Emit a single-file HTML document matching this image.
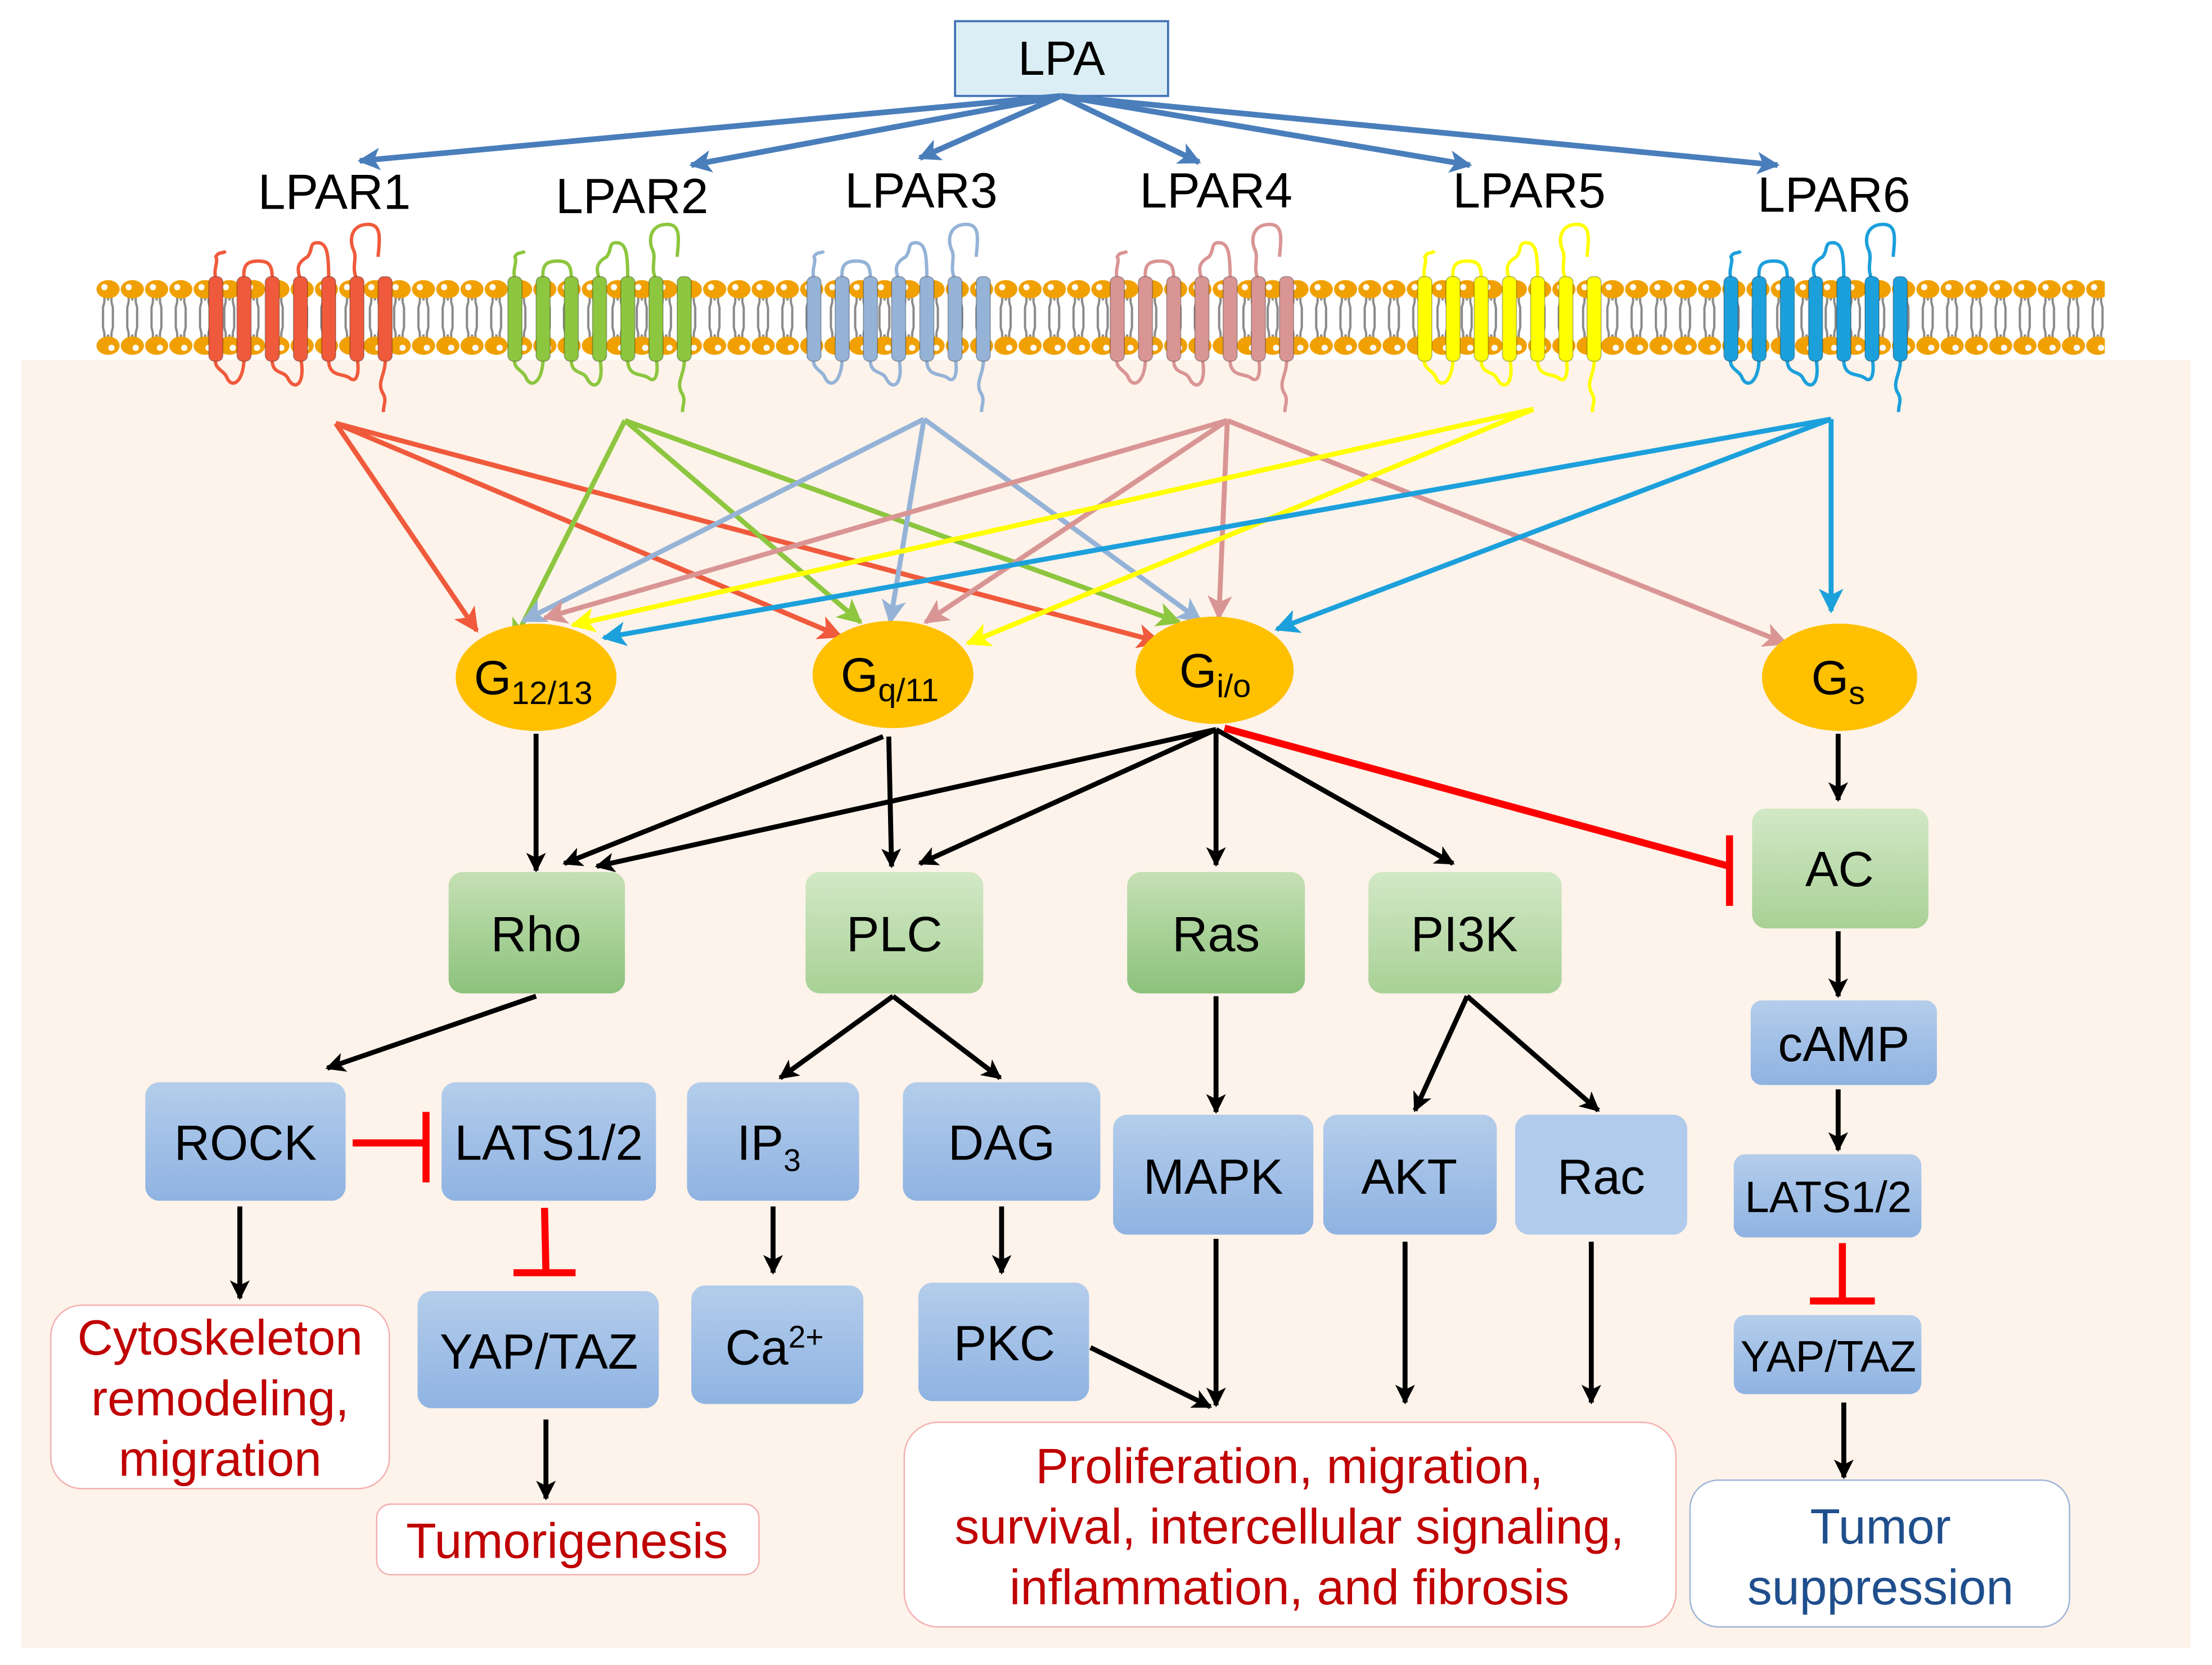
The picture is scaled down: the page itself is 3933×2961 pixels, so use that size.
<!DOCTYPE html>
<html><head><meta charset="utf-8"><style>
html,body{margin:0;padding:0;background:#fff}
svg{display:block}
text{font-family:"Liberation Sans",Arial,sans-serif}
</style></head><body>
<svg width="3933" height="2961" viewBox="0 0 1568 1180" preserveAspectRatio="none" xmlns="http://www.w3.org/2000/svg">
<defs>
<linearGradient id="gg" x1="0" y1="0" x2="0" y2="1"><stop offset="0" stop-color="#c5e0b4"/><stop offset="1" stop-color="#8cc27c"/></linearGradient>
<linearGradient id="gl" x1="0" y1="0" x2="0" y2="1"><stop offset="0" stop-color="#d2e8c6"/><stop offset="1" stop-color="#a9d196"/></linearGradient>
<linearGradient id="bg" x1="0" y1="0" x2="0" y2="1"><stop offset="0" stop-color="#b4cdeb"/><stop offset="1" stop-color="#8fb3e2"/></linearGradient>
<pattern id="lip" x="68" y="0" width="17.2" height="300" patternUnits="userSpaceOnUse">
<g stroke="#8a8a8a" stroke-width="1.6" fill="none">
<path d="M6,210 v4 M11,210 v4 M6,214 l-1,4 v8 M11,214 l1,4 v8 M8.6,210 v3"/>
<path d="M6,240 v-4 M11,240 v-4 M6,236 l-1,-4 v-8 M11,236 l1,-4 v-8 M8.6,240 v-3"/>
</g>
<ellipse cx="8.6" cy="205" rx="8.2" ry="6.5" fill="#f0a000"/>
<circle cx="6" cy="203.5" r="2.2" fill="#fff"/>
<ellipse cx="8.6" cy="245" rx="8.2" ry="6.5" fill="#f0a000"/>
<circle cx="11" cy="246.5" r="2.2" fill="#fff"/>
</pattern>
<g id="rec">
<g fill="none" stroke="currentColor" stroke-width="2.4">
<path d="M-60,198 C-62,190 -58,186 -60,182 -58,178 -55,180 -53,178"/>
<path d="M-40,198 C-41,188 -38,185 -30,185 -22,185 -20,188 -20,198"/>
<path d="M0,198 C-3,190 -2,186 5,182 9,177 6,172 12,172 19,172 20,180 20,198"/>
<path d="M40,198 C36,190 40,184 38,178 34,170 36,159 48,159 58,159 56,170 55,182 60,188 60,198"/>
<path d="M-60,253 C-62,262 -54,262 -52,268 -48,276 -40,270 -40,253"/>
<path d="M-20,253 C-21,266 -12,262 -9,268 -4,278 4,272 0,253"/>
<path d="M20,253 C19,268 30,264 35,268 40,272 42,264 40,253"/>
<path d="M60,253 C61,265 54,270 58,278 62,284 58,288 59,292"/>
</g>
<g fill="currentColor" stroke="rgba(0,0,0,0.25)" stroke-width="0.8">
<rect x="-65" y="196" width="10" height="60" rx="4"/>
<rect x="-45" y="196" width="10" height="60" rx="4"/>
<rect x="-25" y="196" width="10" height="60" rx="4"/>
<rect x="-5" y="196" width="10" height="60" rx="4"/>
<rect x="15" y="196" width="10" height="60" rx="4"/>
<rect x="35" y="196" width="10" height="60" rx="4"/>
<rect x="55" y="196" width="10" height="60" rx="4"/>
</g>
</g>
<marker id="mB" viewBox="0 0 10 10" refX="9" refY="5" markerWidth="4" markerHeight="4" orient="auto" markerUnits="strokeWidth"><path d="M0,0 L10,5 L0,10 L2.5,5z" fill="#4a7ebb"/></marker>
<marker id="mR" viewBox="0 0 10 10" refX="9" refY="5" markerWidth="5" markerHeight="5" orient="auto" markerUnits="strokeWidth"><path d="M0,0 L10,5 L0,10 L2.5,5z" fill="#f05a3c"/></marker>
<marker id="mG" viewBox="0 0 10 10" refX="9" refY="5" markerWidth="5" markerHeight="5" orient="auto" markerUnits="strokeWidth"><path d="M0,0 L10,5 L0,10 L2.5,5z" fill="#8dc63f"/></marker>
<marker id="mL" viewBox="0 0 10 10" refX="9" refY="5" markerWidth="5" markerHeight="5" orient="auto" markerUnits="strokeWidth"><path d="M0,0 L10,5 L0,10 L2.5,5z" fill="#95b3d7"/></marker>
<marker id="mP" viewBox="0 0 10 10" refX="9" refY="5" markerWidth="5" markerHeight="5" orient="auto" markerUnits="strokeWidth"><path d="M0,0 L10,5 L0,10 L2.5,5z" fill="#d99594"/></marker>
<marker id="mY" viewBox="0 0 10 10" refX="9" refY="5" markerWidth="5" markerHeight="5" orient="auto" markerUnits="strokeWidth"><path d="M0,0 L10,5 L0,10 L2.5,5z" fill="#ffff00"/></marker>
<marker id="mC" viewBox="0 0 10 10" refX="9" refY="5" markerWidth="5" markerHeight="5" orient="auto" markerUnits="strokeWidth"><path d="M0,0 L10,5 L0,10 L2.5,5z" fill="#1ca0dc"/></marker>
<marker id="mK" viewBox="0 0 10 10" refX="9" refY="5" markerWidth="4" markerHeight="4" orient="auto" markerUnits="strokeWidth"><path d="M0,0 L10,5 L0,10 L2.5,5z" fill="#000"/></marker>
</defs>

<rect x="15" y="255" width="1538" height="913" fill="#fdf3ea"/>

<rect x="677" y="15" width="151" height="53" fill="#dbeef5" stroke="#3f72b5" stroke-width="1.5"/>
<text x="752.5" y="53" font-size="34" text-anchor="middle">LPA</text>
<g stroke="#4a7ebb" stroke-width="4" fill="none" marker-end="url(#mB)">
<line x1="752" y1="68" x2="255" y2="114"/>
<line x1="752" y1="68" x2="490" y2="117"/>
<line x1="752" y1="68" x2="652" y2="112"/>
<line x1="752" y1="68" x2="850" y2="115"/>
<line x1="752" y1="68" x2="1042" y2="117"/>
<line x1="752" y1="68" x2="1260" y2="117"/>
</g>
<g font-size="35" text-anchor="middle">
<text x="237" y="148">LPAR1</text>
<text x="448" y="151">LPAR2</text>
<text x="653" y="147">LPAR3</text>
<text x="862" y="147">LPAR4</text>
<text x="1084" y="147">LPAR5</text>
<text x="1300" y="150">LPAR6</text>
</g>

<rect x="68" y="195" width="1424" height="60" fill="url(#lip)"/>
<use href="#rec" x="213" style="color:#f05a3c"/>
<use href="#rec" x="425" style="color:#8dc63f"/>
<use href="#rec" x="637" style="color:#95b3d7"/>
<use href="#rec" x="852" style="color:#d99594"/>
<use href="#rec" x="1070" style="color:#ffff00"/>
<use href="#rec" x="1287" style="color:#1ca0dc"/>

<g stroke-width="3.5" fill="none">
<g stroke="#f05a3c" marker-end="url(#mR)">
<line x1="238" y1="300" x2="338" y2="447"/><line x1="238" y1="300" x2="596" y2="451"/><line x1="238" y1="300" x2="822" y2="455"/></g>
<g stroke="#8dc63f" marker-end="url(#mG)">
<line x1="443" y1="298" x2="364" y2="455"/><line x1="443" y1="298" x2="610" y2="441"/><line x1="443" y1="298" x2="836" y2="441"/></g>
<g stroke="#95b3d7" marker-end="url(#mL)">
<line x1="655" y1="297" x2="371" y2="440"/><line x1="655" y1="297" x2="631" y2="441"/><line x1="655" y1="297" x2="851" y2="440"/></g>
<g stroke="#d99594" marker-end="url(#mP)">
<line x1="870" y1="298" x2="386" y2="438"/><line x1="870" y1="298" x2="656" y2="441"/><line x1="870" y1="298" x2="864" y2="438"/><line x1="870" y1="298" x2="1266" y2="456"/></g>
<g stroke="#ffff00" marker-end="url(#mY)">
<line x1="1087" y1="290" x2="406" y2="443"/><line x1="1087" y1="290" x2="686" y2="456"/></g>
<g stroke="#1ca0dc" marker-end="url(#mC)">
<line x1="1298" y1="297" x2="428" y2="452"/><line x1="1298" y1="297" x2="905" y2="446"/><line x1="1298" y1="297" x2="1298" y2="433"/></g>
</g>

<g fill="#ffc000">
<ellipse cx="380" cy="480" rx="57" ry="38"/>
<ellipse cx="633" cy="478" rx="57" ry="38"/>
<ellipse cx="861" cy="475" rx="56" ry="38"/>
<ellipse cx="1304" cy="480" rx="55" ry="38"/>
</g>
<g font-size="34">
<text x="336" y="492">G<tspan font-size="23" dy="7">12/13</tspan></text>
<text x="596" y="490">G<tspan font-size="23" dy="7">q/11</tspan></text>
<text x="836" y="487">G<tspan font-size="23" dy="7">i/o</tspan></text>
<text x="1284" y="492">G<tspan font-size="23" dy="7">s</tspan></text>
</g>

<g stroke="#000" stroke-width="3.5" fill="none" marker-end="url(#mK)">
<line x1="380" y1="520" x2="380" y2="617"/>
<line x1="626" y1="522" x2="400" y2="612"/>
<line x1="630" y1="522" x2="632" y2="614"/>
<line x1="862" y1="517" x2="423" y2="614"/>
<line x1="862" y1="517" x2="652" y2="612"/>
<line x1="862" y1="517" x2="862" y2="613"/>
<line x1="862" y1="517" x2="1030" y2="612"/>
<line x1="1303" y1="520" x2="1303" y2="567"/>
<line x1="380" y1="706" x2="232" y2="757"/>
<line x1="633" y1="706" x2="553" y2="764"/>
<line x1="633" y1="706" x2="709" y2="764"/>
<line x1="862" y1="706" x2="862" y2="788"/>
<line x1="1040" y1="706" x2="1003" y2="787"/>
<line x1="1040" y1="706" x2="1133" y2="787"/>
<line x1="1303" y1="660" x2="1303" y2="706"/>
<line x1="1303" y1="772" x2="1303" y2="815"/>
<line x1="170" y1="855" x2="170" y2="920"/>
<line x1="548" y1="855" x2="548" y2="902"/>
<line x1="710" y1="855" x2="710" y2="902"/>
<line x1="387" y1="1006" x2="387" y2="1062"/>
<line x1="862" y1="878" x2="862" y2="996"/>
<line x1="773" y1="955" x2="858" y2="997"/>
<line x1="996" y1="880" x2="996" y2="994"/>
<line x1="1128" y1="880" x2="1128" y2="994"/>
<line x1="1307" y1="994" x2="1307" y2="1047"/>
</g>
<g stroke="#ff0000" stroke-width="5" fill="none">
<line x1="868" y1="516" x2="1226" y2="614"/><line x1="1226" y1="592" x2="1226" y2="642"/>
<line x1="250" y1="810" x2="302" y2="810"/><line x1="302" y1="788" x2="302" y2="838"/>
<line x1="386" y1="856" x2="387" y2="902"/><line x1="364" y1="902" x2="408" y2="902"/>
<line x1="1306" y1="881" x2="1306" y2="922"/><line x1="1283" y1="922" x2="1329" y2="922"/>
</g>

<rect x="318" y="618" width="125" height="86" rx="10" fill="url(#gg)"/>
<rect x="571" y="618" width="126" height="86" rx="10" fill="url(#gl)"/>
<rect x="799" y="618" width="126" height="86" rx="10" fill="url(#gg)"/>
<rect x="970" y="618" width="137" height="86" rx="10" fill="url(#gl)"/>
<rect x="1242" y="573" width="125" height="85" rx="10" fill="url(#gl)"/>
<g fill="url(#bg)">
<rect x="103" y="767" width="142" height="84" rx="10"/>
<rect x="313" y="767" width="152" height="84" rx="10"/>
<rect x="487" y="767" width="122" height="84" rx="10"/>
<rect x="640" y="767" width="140" height="84" rx="10"/>
<rect x="789" y="790" width="142" height="85" rx="10"/>
<rect x="938" y="790" width="123" height="85" rx="10"/>
<rect x="1241" y="709" width="132" height="60" rx="8"/>
<rect x="1229" y="818" width="133" height="59" rx="8"/>
<rect x="296" y="915" width="171" height="83" rx="10"/>
<rect x="490" y="911" width="122" height="84" rx="10"/>
<rect x="651" y="909" width="121" height="84" rx="10"/>
<rect x="1229" y="932" width="133" height="56" rx="8"/>
</g>
<rect x="1074" y="790" width="122" height="85" rx="10" fill="#b0cbeb"/>

<g font-size="35" text-anchor="middle">
<text x="380" y="674">Rho</text>
<text x="634" y="674">PLC</text>
<text x="862" y="674">Ras</text>
<text x="1038" y="674">PI3K</text>
<text x="1304" y="628">AC</text>
<text x="174" y="822">ROCK</text>
<text x="389" y="822">LATS1/2</text>
<text x="545" y="822">IP<tspan font-size="22" dy="8">3</tspan></text>
<text x="710" y="822">DAG</text>
<text x="860" y="846">MAPK</text>
<text x="999" y="846">AKT</text>
<text x="1135" y="846">Rac</text>
<text x="1307" y="752">cAMP</text>
<text x="382" y="970">YAP/TAZ</text>
<text x="549" y="967">Ca<tspan font-size="22" dy="-12">2+</tspan></text>
<text x="712" y="964">PKC</text>
</g>
<g font-size="31" text-anchor="middle">
<text x="1296" y="859">LATS1/2</text>
<text x="1296" y="972">YAP/TAZ</text>
</g>

<rect x="36" y="925" width="240" height="130" rx="22" fill="#fff" stroke="#f4b0b0" stroke-width="1"/>
<rect x="267" y="1066" width="271" height="50" rx="10" fill="#fff" stroke="#f4b0b0" stroke-width="1"/>
<rect x="641" y="1008" width="547" height="145" rx="24" fill="#fff" stroke="#f4b0b0" stroke-width="1"/>
<rect x="1198" y="1049" width="269" height="104" rx="20" fill="#fff" stroke="#9fb5d9" stroke-width="1"/>
<g font-size="35" text-anchor="middle" fill="#c00000">
<text x="156" y="960">Cytoskeleton</text>
<text x="156" y="1003">remodeling,</text>
<text x="156" y="1046">migration</text>
<text x="402" y="1104">Tumorigenesis</text>
<text x="914" y="1051">Proliferation, migration,</text>
<text x="914" y="1094">survival, intercellular signaling,</text>
<text x="914" y="1137">inflammation, and fibrosis</text>
</g>
<g font-size="35" text-anchor="middle" fill="#1f4e8c">
<text x="1333" y="1094">Tumor</text>
<text x="1333" y="1137">suppression</text>
</g>
</svg>
</body></html>
